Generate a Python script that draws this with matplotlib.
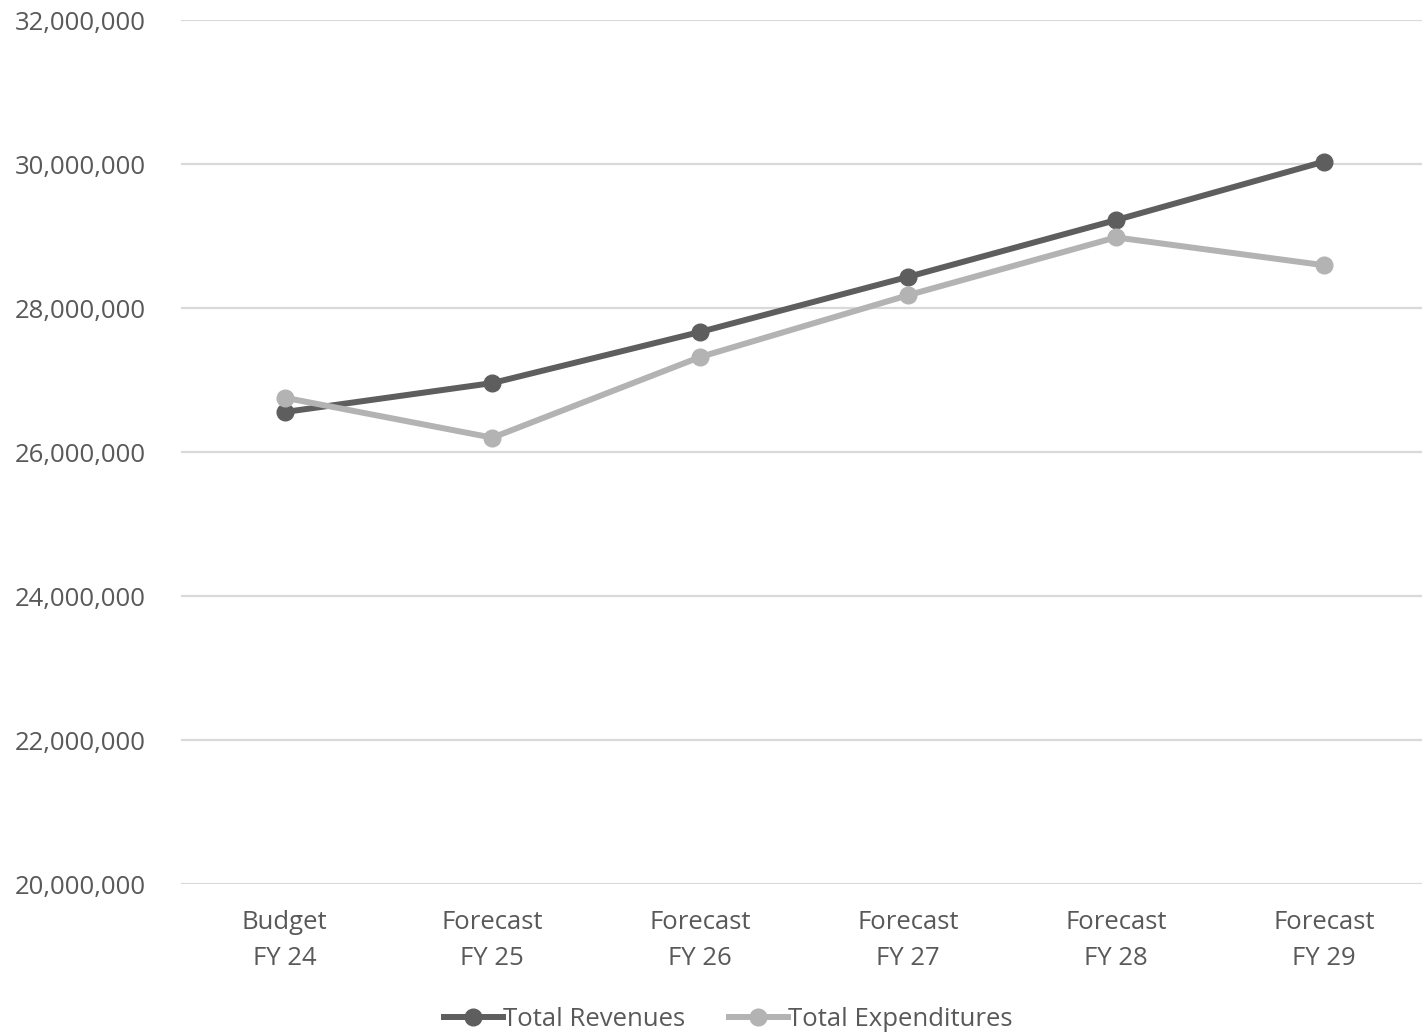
import matplotlib
matplotlib.use("Agg")
import matplotlib.pyplot as plt
from matplotlib.ticker import FuncFormatter

categories = ["Budget\nFY 24", "Forecast\nFY 25", "Forecast\nFY 26", "Forecast\nFY 27", "Forecast\nFY 28", "Forecast\nFY 29"]
revenues = [26555000, 26958000, 27668000, 28433000, 29221000, 30032000]
expenditures = [26755000, 26199000, 27320000, 28178000, 28981000, 28595000]
y_ticks = [20000000, 22000000, 24000000, 26000000, 28000000, 30000000, 32000000]

plt.rcParams['font.family'] = ['Open Sans', 'DejaVu Sans']
text_color = "#595959"
dark = "#5e5e5e"
light = "#b3b3b3"

fig = plt.figure(figsize=(14.22, 10.32), dpi=100)
ax = fig.add_axes([0.127, 0.1434, 0.877, 0.8372])
x = list(range(len(categories)))
ax.plot(x, revenues, color=dark, lw=4.3, marker='o', ms=12, label="Total Revenues", zorder=3)
ax.plot(x, expenditures, color=light, lw=4.3, marker='o', ms=12, label="Total Expenditures", zorder=3)

ax.set_xlim(-0.5, 5.5)
ax.set_ylim(20000000, 32000000)
ax.set_yticks(y_ticks)
ax.yaxis.set_major_formatter(FuncFormatter(lambda v, p: f"{int(v):,}"))
ax.set_xticks(x)
ax.set_xticklabels(categories, linespacing=1.62)
ax.grid(axis='y', color="#d9d9d9", lw=1.6, zorder=0)
for s in ax.spines.values():
    s.set_visible(False)
ax.tick_params(axis='both', length=0, colors=text_color, labelsize=18.5)
ax.tick_params(axis='y', pad=25)
ax.tick_params(axis='x', pad=18.5)

leg = fig.legend(loc='lower center', bbox_to_anchor=(0.512, -0.022), ncol=2, frameon=False,
                 fontsize=18.5, handlelength=2.3, handletextpad=0.0, columnspacing=1.7)
for t in leg.get_texts():
    t.set_color(text_color)

fig.savefig("out.png", dpi=100)
